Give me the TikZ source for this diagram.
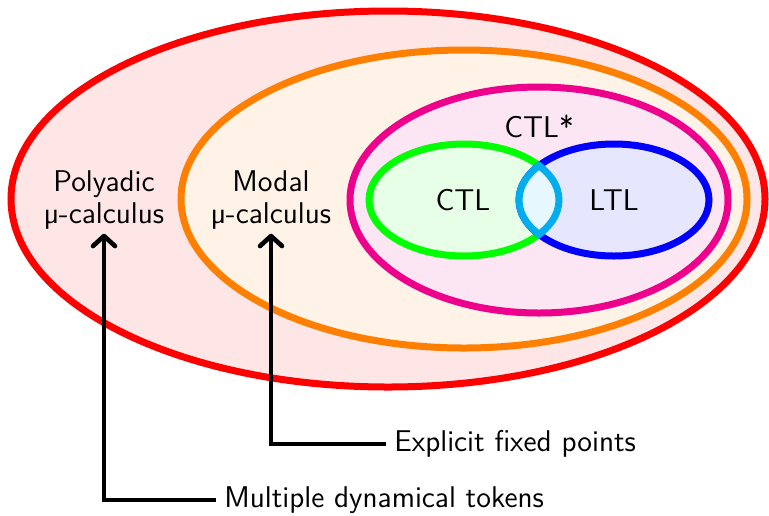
\documentclass[tikz,border=0pt]{standalone}
\usepackage{fontspec}
\usetikzlibrary{arrows.meta}
\definecolor{venRedLine}{HTML}{FF0000}
\definecolor{venRedFill}{HTML}{FFE6E6}
\definecolor{venOrangeLine}{HTML}{FF8000}
\definecolor{venOrangeFill}{HTML}{FFF2E6}
\definecolor{venPinkLine}{HTML}{EC008C}
\definecolor{venPinkFill}{HTML}{FDE6F3}
\definecolor{venGreenLine}{HTML}{00FF00}
\definecolor{venGreenFill}{HTML}{E6FFE6}
\definecolor{venBlueLine}{HTML}{0000FF}
\definecolor{venBlueFill}{HTML}{E6E6FF}
\definecolor{venCyanLine}{HTML}{00AEEF}
\definecolor{venCyanFill}{HTML}{E6F7FD}

\begin{document}
\begin{tikzpicture}[
    x=0.5pt, y=-0.5pt,
    font=\fontsize{15}{16}\selectfont\sffamily,
    region/.style={
        line width=3.5pt,
    },
    region_red/.style={region, draw=venRedLine, fill=venRedFill},
    region_orange/.style={region, draw=venOrangeLine, fill=venOrangeFill},
    region_pink/.style={region, draw=venPinkLine, fill=venPinkFill},
    region_green/.style={region, draw=venGreenLine, fill=venGreenFill},
    region_blue/.style={region, draw=venBlueLine, fill=venBlueFill},
    logic/.style={
        align=center,
        inner sep=2pt,
    },
    pointer/.style={
        -{Straight Barb[length=5pt,width=11pt,round]},
        line width=2.3pt,
        black,
    },
    remark/.style={
        anchor=west,
        inner sep=4pt,
    },
]

    \useasboundingbox (0,0) rectangle (769,515);

    % Nested logics
    \path[region_red]    (388,199) ellipse [x radius=377, y radius=188];
    \path[region_orange] (464,199) ellipse [x radius=283, y radius=149];
    \path[region_pink]   (539,200) ellipse [x radius=189, y radius=113];
    \path[region_green]  (464,200) ellipse [x radius=95, y radius=56];
    \path[region_blue]   (614,200) ellipse [x radius=95, y radius=56];

    % CTL / LTL overlap
    \begin{scope}
        \clip (464,200) ellipse [x radius=95, y radius=56];
        \fill[venCyanFill] (614,200) ellipse [x radius=95, y radius=56];
    \end{scope}
    \begin{scope}
        \clip (464,200) ellipse [x radius=98.5, y radius=59.5];
        \draw[region, draw=venCyanLine] (614,200) ellipse [x radius=95, y radius=56];
    \end{scope}
    \begin{scope}
        \clip (614,200) ellipse [x radius=98.5, y radius=59.5];
        \draw[region, draw=venCyanLine] (464,200) ellipse [x radius=95, y radius=56];
    \end{scope}

    % Labels
    \node[logic] (poly)    at (104,200) {Polyadic\\µ-calculus};
    \node[logic] (modal)   at (271,200) {Modal\\µ-calculus};
    \node[logic] (ctlstar) at (539,126) {CTL*};
    \node[logic] (ctl)     at (463,200) {CTL};
    \node[logic] (ltl)     at (614,200) {LTL};

    % Annotations
    \node[remark] (explicit) at (386,444) {Explicit fixed points};
    \node[remark] (multi)    at (216,500) {Multiple dynamical tokens};

    \draw[pointer] (explicit.west) -| (modal.south);
    \draw[pointer] (multi.west) -| (poly.south);

\end{tikzpicture}
\end{document}
